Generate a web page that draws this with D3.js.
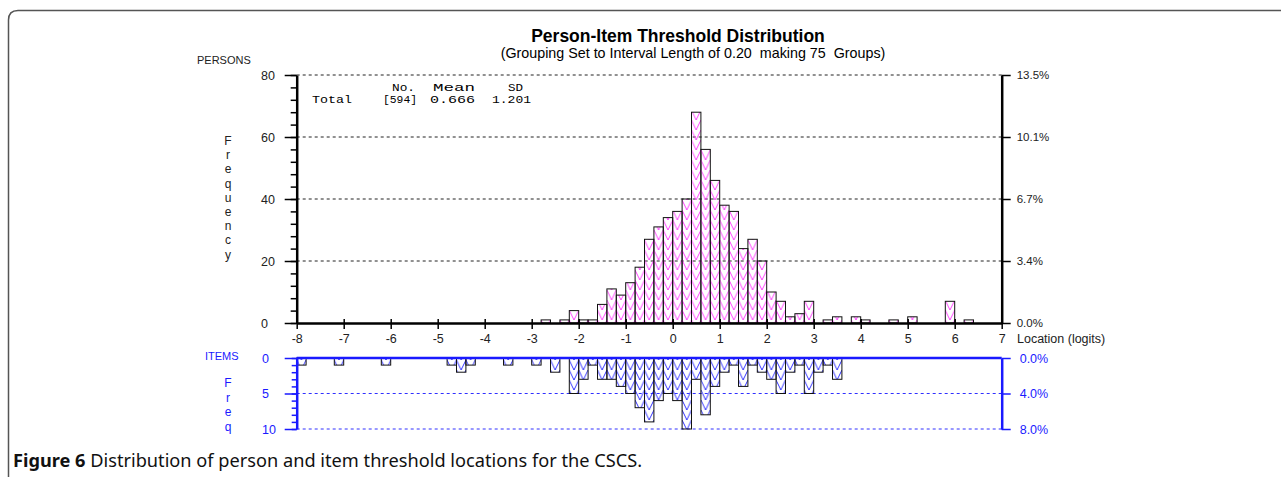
<!DOCTYPE html>
<html>
<head>
<meta charset="utf-8">
<script src="https://cdn.jsdelivr.net/npm/d3@7"></script>
<style>
  body { margin: 0; background: #fff; }
  svg { display: block; font-family: "Liberation Sans", Arial, sans-serif; }
</style>
</head>
<body>
<svg id="chart"></svg>
<script>
const width = 1281;
const height = 477;

// 75 groups of 0.2 logits, from -8 to 7
const binStart = -8;
const binWidth = 0.2;

const personCounts = [
  0, 0, 0, 0, 0, 0, 0, 0, 0, 0, 0, 0, 0, 0, 0,
  0, 0, 0, 0, 0, 0, 0, 0, 0, 0, 0, 1, 0, 1, 4,
  1, 1, 6, 11, 9, 13, 18, 27, 31, 34, 36, 40, 68, 56, 46,
  38, 36, 24, 27, 20, 10, 7, 2, 3, 7, 0, 1, 2, 0, 2,
  1, 0, 0, 1, 0, 2, 0, 0, 0, 7, 0, 1, 0, 0, 0
];

const itemCounts = [
  1, 0, 0, 0, 1, 0, 0, 0, 0, 1, 0, 0, 0, 0, 0,
  0, 1, 2, 1, 0, 0, 0, 1, 0, 0, 1, 0, 2, 0, 5,
  3, 1, 3, 3, 4, 5, 7, 9, 6, 5, 6, 10, 3, 8, 4,
  2, 1, 4, 1, 2, 3, 5, 2, 1, 5, 2, 1, 3, 0, 0,
  0, 0, 0, 0, 0, 0, 0, 0, 0, 0, 0, 0, 0, 0, 0
];

const xTicks = d3.range(-8, 8);
const personTicks = [0, 20, 40, 60, 80];
const personPctLabels = ["0.0%", "3.4%", "6.7%", "10.1%", "13.5%"];
const itemTicks = [0, 5, 10];
const itemPctLabels = ["0.0%", "4.0%", "8.0%"];

const statsHeader = ["No.", "Mean", "SD"];
const statsRow = ["Total", "[594]", "0.666", "1.201"];

const blue = "#1a1aff";
const magenta = "#ff2bff";
const sans = "'Liberation Sans', Arial, sans-serif";
const mono = "'Liberation Mono', 'Courier New', monospace";

const svg = d3.select("#chart")
    .attr("width", width)
    .attr("height", height)
    .attr("viewBox", [0, 0, width, height]);

// panel frame
svg.append("path")
    .attr("d", "M8.5,477 L8.5,20 Q8.5,10.5 18,10.5 L1281,10.5")
    .attr("fill", "none")
    .attr("stroke", "#555")
    .attr("stroke-width", 1.5);

const x = d3.scaleLinear().domain([-8, 7]).range([296.7, 1001.7]);
const yTop = d3.scaleLinear().domain([0, 80]).range([323, 75]);
const yBot = d3.scaleLinear().domain([0, 10]).range([358, 429]);

// hatch patterns
const defs = svg.append("defs");
function hatch(id, color) {
    const w = x(binWidth) - x(0);
    const p = defs.append("pattern")
        .attr("id", id)
        .attr("patternUnits", "userSpaceOnUse")
        .attr("x", x(binStart))
        .attr("y", 0)
        .attr("width", w)
        .attr("height", 10);
    p.append("path")
        .attr("d", `M0,0 L${w / 2},10 L${w},0`)
        .attr("fill", "none")
        .attr("stroke", color)
        .attr("stroke-width", 0.9);
}
hatch("hatchP", magenta);
hatch("hatchI", blue);

// titles
svg.append("text")
    .attr("x", 678).attr("y", 42)
    .attr("text-anchor", "middle")
    .attr("font-size", 17.5).attr("font-weight", "bold")
    .text("Person-Item Threshold Distribution");

svg.append("text")
    .attr("x", 693).attr("y", 58)
    .attr("text-anchor", "middle")
    .attr("font-size", 14.3)
    .attr("xml:space", "preserve")
    .text("(Grouping Set to Interval Length of 0.20  making 75  Groups)");

svg.append("text")
    .attr("x", 197).attr("y", 64)
    .attr("font-size", 11)
    .attr("fill", "#222")
    .text("PERSONS");

// Frequency letters
svg.append("g")
    .selectAll("text")
    .data("Frequency".split(""))
    .join("text")
    .attr("x", 228)
    .attr("y", (d, i) => 145 + i * 14.2)
    .attr("text-anchor", "middle")
    .attr("font-size", 12)
    .attr("fill", "#222")
    .text(d => d);

// grid lines (persons)
svg.append("g")
    .selectAll("line")
    .data(personTicks.filter(d => d > 0))
    .join("line")
    .attr("x1", x(-8)).attr("x2", x(7))
    .attr("y1", d => yTop(d)).attr("y2", d => yTop(d))
    .attr("stroke", "#222")
    .attr("stroke-dasharray", "3,3");

// person bars
const bars = personCounts.map((v, i) => ({ x0: binStart + i * binWidth, v }));
svg.append("g")
    .selectAll("rect")
    .data(bars.filter(d => d.v > 0))
    .join("rect")
    .attr("x", d => x(d.x0))
    .attr("width", d => x(d.x0 + binWidth) - x(d.x0))
    .attr("y", d => yTop(d.v))
    .attr("height", d => yTop(0) - yTop(d.v))
    .attr("fill", "url(#hatchP)")
    .attr("stroke", "#111")
    .attr("stroke-width", 1);

// left axis (persons)
const leftMinor = svg.append("g")
    .attr("transform", `translate(${x(-8)},0)`)
    .call(d3.axisLeft(yTop).tickValues(d3.range(0, 81, 4)).tickSize(6).tickSizeOuter(0).tickFormat(""));
leftMinor.select(".domain").attr("stroke-width", 2.5);
leftMinor.selectAll(".tick line").attr("stroke-width", 1.5);

const leftMajor = svg.append("g")
    .attr("transform", `translate(${x(-8)},0)`)
    .call(d3.axisLeft(yTop).tickValues(personTicks).tickSize(12).tickSizeOuter(0).tickFormat(""));
leftMajor.select(".domain").remove();
leftMajor.selectAll(".tick line").attr("stroke-width", 1.5);

svg.append("g")
    .selectAll("text")
    .data(personTicks)
    .join("text")
    .attr("x", 261)
    .attr("y", d => yTop(d))
    .attr("dy", "0.36em")
    .attr("font-size", 12.5)
    .attr("fill", "#222")
    .text(d => d);

// right axis (persons, percent)
const rightAx = svg.append("g")
    .attr("transform", `translate(${x(7)},0)`)
    .call(d3.axisRight(yTop).tickValues(personTicks).tickSize(9).tickSizeOuter(0)
        .tickFormat((d, i) => personPctLabels[i]).tickPadding(6));
rightAx.select(".domain").attr("stroke-width", 2.5);
rightAx.selectAll(".tick line").attr("stroke-width", 1.5);
rightAx.selectAll("text").attr("font-size", 11.5).attr("fill", "#222")
    .style("font-family", sans);

// x axis
const xAx = svg.append("g")
    .attr("transform", `translate(0,${yTop(0)})`)
    .call(d3.axisBottom(x).tickValues(xTicks).tickSize(6).tickSizeOuter(0).tickPadding(5)
        .tickFormat(d => String(d)));
xAx.select(".domain").attr("stroke-width", 2.5);
xAx.selectAll(".tick line").attr("y1", -4).attr("stroke-width", 1.5);
xAx.selectAll("text").attr("font-size", 12.5).attr("fill", "#222")
    .style("font-family", sans);

svg.append("text")
    .attr("x", 1017).attr("y", 343)
    .attr("font-size", 12.5).attr("fill", "#222")
    .text("Location (logits)");

// stats table
const headerPos = [[392, 415], [433, 475], [508, 523]];
svg.append("g")
    .selectAll("text")
    .data(statsHeader)
    .join("text")
    .attr("x", (d, i) => headerPos[i][0])
    .attr("y", 91)
    .style("font-family", mono)
    .attr("font-size", 11)
    .attr("textLength", (d, i) => headerPos[i][1] - headerPos[i][0])
    .attr("lengthAdjust", "spacingAndGlyphs")
    .text(d => d);
const rowPos = [[312, 352], [383, 417], [430, 475], [492, 531]];
svg.append("g")
    .selectAll("text")
    .data(statsRow)
    .join("text")
    .attr("x", (d, i) => rowPos[i][0])
    .attr("y", 103)
    .style("font-family", mono)
    .attr("font-size", 11)
    .attr("textLength", (d, i) => rowPos[i][1] - rowPos[i][0])
    .attr("lengthAdjust", "spacingAndGlyphs")
    .text(d => d);

// ---- items panel ----
svg.append("text")
    .attr("x", 205).attr("y", 360)
    .attr("font-size", 11).attr("fill", blue)
    .text("ITEMS");

svg.append("g")
    .selectAll("text")
    .data("Freq".split(""))
    .join("text")
    .attr("x", 228)
    .attr("y", (d, i) => 387 + i * 14.5)
    .attr("text-anchor", "middle")
    .attr("font-size", 12)
    .attr("fill", blue)
    .text(d => d);

svg.append("g")
    .selectAll("line")
    .data(itemTicks.filter(d => d > 0))
    .join("line")
    .attr("x1", x(-8)).attr("x2", x(7))
    .attr("y1", d => yBot(d)).attr("y2", d => yBot(d))
    .attr("stroke", "#3030ff")
    .attr("stroke-dasharray", "3,3");

const ibars = itemCounts.map((v, i) => ({ x0: binStart + i * binWidth, v }));
svg.append("g")
    .selectAll("rect")
    .data(ibars.filter(d => d.v > 0))
    .join("rect")
    .attr("x", d => x(d.x0))
    .attr("width", d => x(d.x0 + binWidth) - x(d.x0))
    .attr("y", yBot(0))
    .attr("height", d => yBot(d.v) - yBot(0))
    .attr("fill", "url(#hatchI)")
    .attr("stroke", "#111")
    .attr("stroke-width", 1);

svg.append("line")
    .attr("x1", x(-8)).attr("x2", x(7))
    .attr("y1", yBot(0)).attr("y2", yBot(0))
    .attr("stroke", blue).attr("stroke-width", 2.5);

const botMinor = svg.append("g")
    .attr("transform", `translate(${x(-8)},0)`)
    .call(d3.axisLeft(yBot).tickValues(d3.range(0, 11)).tickSize(5).tickSizeOuter(0).tickFormat(""));
botMinor.select(".domain").attr("stroke", blue).attr("stroke-width", 2.5);
botMinor.selectAll(".tick line").attr("stroke", blue).attr("stroke-width", 1.5);

const botMajor = svg.append("g")
    .attr("transform", `translate(${x(-8)},0)`)
    .call(d3.axisLeft(yBot).tickValues(itemTicks).tickSize(12).tickSizeOuter(0).tickFormat(""));
botMajor.select(".domain").remove();
botMajor.selectAll(".tick line").attr("stroke", blue).attr("stroke-width", 1.5);

svg.append("g")
    .selectAll("text")
    .data(itemTicks)
    .join("text")
    .attr("x", 262)
    .attr("y", d => yBot(d))
    .attr("dy", "0.36em")
    .attr("font-size", 12.5)
    .attr("fill", blue)
    .text(d => d);

const botRight = svg.append("g")
    .attr("transform", `translate(${x(7)},0)`)
    .call(d3.axisRight(yBot).tickValues(itemTicks).tickSize(9).tickSizeOuter(0)
        .tickFormat((d, i) => itemPctLabels[i]).tickPadding(9));
botRight.select(".domain").attr("stroke", blue).attr("stroke-width", 2.5);
botRight.selectAll(".tick line").attr("stroke", blue).attr("stroke-width", 1.5);
botRight.selectAll("text").attr("font-size", 12.5).attr("fill", blue)
    .style("font-family", sans);

// caption
const cap = svg.append("text")
    .attr("x", 13).attr("y", 467)
    .style("font-family", "'Noto Sans', 'Open Sans', sans-serif")
    .attr("font-size", 18.2)
    .attr("fill", "#111");
cap.append("tspan").attr("font-weight", "bold").text("Figure 6");
cap.append("tspan").text(" Distribution of person and item threshold locations for the CSCS.");
</script>
</body>
</html>
